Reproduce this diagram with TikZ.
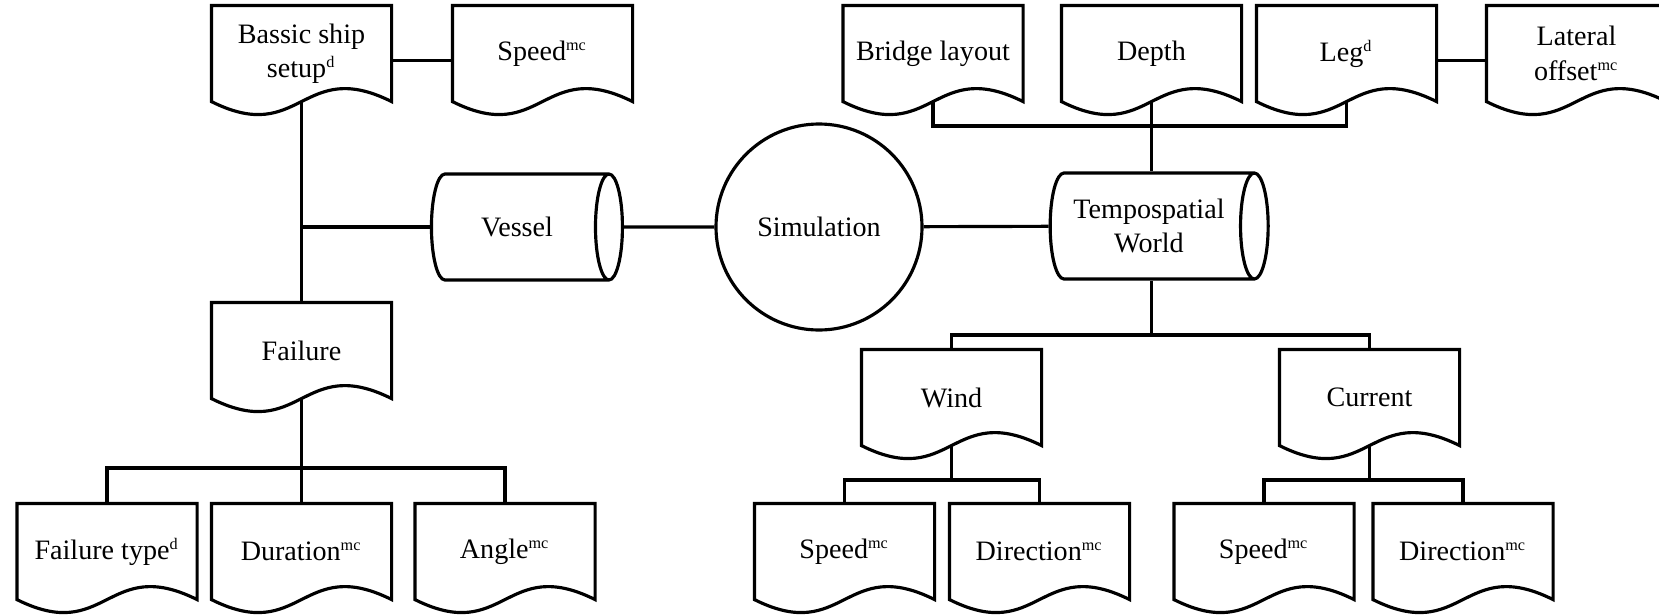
\documentclass[tikz,border=0pt]{standalone}
\usepackage{fontspec}
\setmainfont{Liberation Serif}
\usepackage{tikz}
\usetikzlibrary{shapes.geometric, calc}
\newcommand{\sx}[1]{\textsuperscript{\fontsize{4.6}{5}\selectfont #1}}

\begin{document}
\begin{tikzpicture}[line width=0.9pt,
    every node/.style={font=\fontsize{8}{9.8}\selectfont},
    doc/.style={rectangle, minimum width=1.77cm, minimum height=0.93cm, inner sep=1pt, align=center},
    drum/.style={draw, cylinder, aspect=1, minimum width=1.06cm, inner sep=1pt, align=center},
    hub/.style={draw, circle, minimum size=2.06cm, inner sep=0pt}]
  \useasboundingbox (0,0) rectangle (16.59,6.14);
  \clip (0,0) rectangle (16.59,6.14);

  % vessel branch
  \node[doc] (setup) at (3.015, 5.605) {Bassic ship\\setup\sx{d}};
  \node[doc] (shipspeed) at (5.425, 5.605) {Speed\sx{mc}};
  \node[drum, minimum height=1.91cm] (vessel) at (5.17, 3.87) {Vessel};
  \node[doc] (failure) at (3.015, 2.635) {Failure};
  \node[doc] (ftype) at (1.07, 0.625) {Failure type\sx{d}};
  \node[doc] (duration) at (3.015, 0.625) {Duration\sx{mc}};
  \node[doc] (angle) at (5.05, 0.625) {Angle\sx{mc}};

  \node[hub] (sim) at (8.19, 3.87) {Simulation};

  % world branch
  \node[drum, aspect=0.45, minimum height=2.18cm] (world) at (11.49, 3.88) {Tempospatial\\World};
  \node[doc] (bridge) at (9.33, 5.605) {Bridge layout};
  \node[doc] (depth) at (11.515, 5.605) {Depth};
  \node[doc] (leg) at (13.465, 5.605) {Leg\sx{d}};
  \node[doc] (offset) at (15.765, 5.605) {Lateral\\offset\sx{mc}};
  \node[doc] (wind) at (9.515, 2.165) {Wind};
  \node[doc] (current) at (13.695, 2.165) {Current};
  \node[doc] (wspeed) at (8.445, 0.625) {Speed\sx{mc}};
  \node[doc] (wdir) at (10.395, 0.625) {Direction\sx{mc}};
  \node[doc] (cspeed) at (12.64, 0.625) {Speed\sx{mc}};
  \node[doc] (cdir) at (14.63, 0.625) {Direction\sx{mc}};

  % document outlines with the wavy bottom
  \foreach \n in {setup, shipspeed, failure, ftype, duration, angle, bridge, depth, leg, offset, wind, current, wspeed, wdir, cspeed, cdir}
    \draw (\n.north west) -- (\n.north east) -- (\n.south east)
      .. controls ($(\n.south)+(0,0.45)$) and ($(\n.south)+(0,-0.45)$) .. (\n.south west) -- cycle;

  % tree joints
  \coordinate (topbus) at (11.515, 4.88);
  \coordinate (worldbus) at (11.515, 2.79);
  \coordinate (failbus) at (3.015, 1.46);
  \coordinate (windbus) at (9.515, 1.34);
  \coordinate (currbus) at (13.695, 1.34);

  \draw ([yshift=-0.07cm]setup.east) -- ([yshift=-0.07cm]shipspeed.west);
  \draw (setup.south) -- (failure.north);
  \draw (vessel.west -| setup.south) -- (vessel.west);
  \draw (vessel) -- (sim);
  \draw (sim) -- (world);

  \draw (bridge.south) |- (topbus) -| (leg.south);
  \draw (depth.south) -- (depth.south |- world.north);
  \draw ([yshift=-0.07cm]leg.east) -- ([yshift=-0.07cm]offset.west);

  \draw (worldbus |- world.south) -- (worldbus);
  \draw (wind.north) |- (worldbus) -| (current.north);

  \draw (failure.south) -- (failbus);
  \draw (ftype.north) |- (failbus) -| (angle.north);
  \draw (duration.north) -- (failbus);

  \draw (wind.south) -- (windbus);
  \draw (wspeed.north) |- (windbus) -| (wdir.north);
  \draw (current.south) -- (currbus);
  \draw (cspeed.north) |- (currbus) -| (cdir.north);
\end{tikzpicture}
\end{document}
